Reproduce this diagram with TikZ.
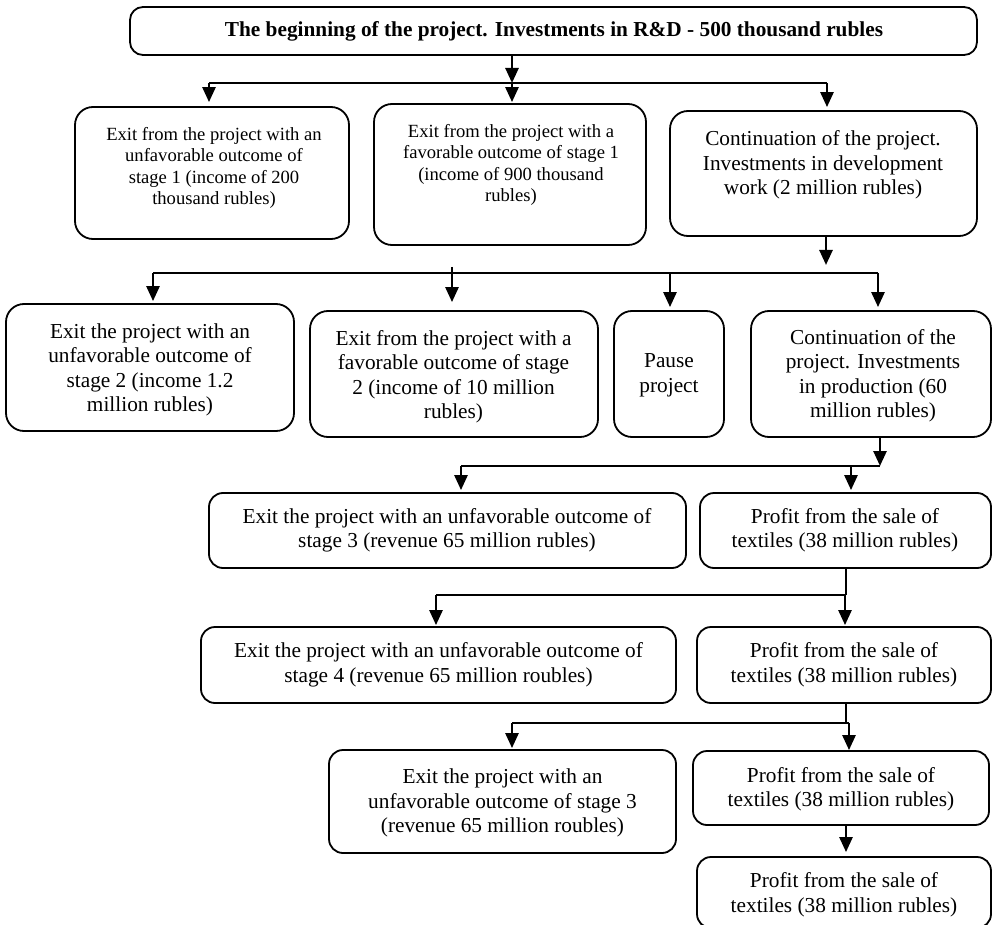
\documentclass[tikz,border=0pt]{standalone}
\usepackage{fontspec}
\setmainfont{Liberation Serif}
\usetikzlibrary{arrows.meta}
\begin{document}
\begin{tikzpicture}[x=1pt,y=-1pt,
  box/.style={draw, line width=1.8pt, rounded corners=14pt, inner sep=0pt},
  bigbox/.style={box, rounded corners=18pt},
  txa/.style={align=center, font=\fontsize{18.6}{21.4}\selectfont, inner sep=0pt},
  txb/.style={align=center, font=\fontsize{21.3}{24.5}\selectfont, inner sep=0pt},
  conn/.style={line width=2.6pt},
  thinconn/.style={line width=1.2pt},
  arr/.style={line width=2.6pt, -{Triangle[width=13pt,length=15pt]}},
]
\useasboundingbox (0,0) rectangle (993,925);
\clip (0,0) rectangle (993,925);

% frames
\node[box, rounded corners=13pt, minimum width=847pt, minimum height=48pt] (T) at (553.5,31) {};
\node[bigbox, minimum width=274pt, minimum height=132pt] (A) at (212,173) {};
\node[bigbox, minimum width=272pt, minimum height=141pt] (B) at (510,174.5) {};
\node[bigbox, minimum width=307pt, minimum height=125pt] (C) at (823.5,173.5) {};
\node[bigbox, minimum width=288pt, minimum height=127pt] (D) at (150,367.5) {};
\node[bigbox, minimum width=288pt, minimum height=126pt] (E) at (454,374) {};
\node[bigbox, minimum width=110pt, minimum height=126pt] (F) at (669,374) {};
\node[bigbox, minimum width=240pt, minimum height=126pt] (G) at (871,374) {};
\node[box, minimum width=477pt, minimum height=75pt] (H) at (447.5,530.5) {};
\node[box, minimum width=291pt, minimum height=75pt] (I) at (845.5,530.5) {};
\node[box, minimum width=475pt, minimum height=76pt] (J) at (438.5,665) {};
\node[box, minimum width=294pt, minimum height=76pt] (K) at (844,665) {};
\node[box, minimum width=347pt, minimum height=103pt] (L) at (502.5,801.5) {};
\node[box, minimum width=296pt, minimum height=74pt] (M) at (841,788) {};
\node[box, minimum width=294pt, minimum height=71pt] (N) at (844,892.5) {};

% texts
\node[txb, font=\bfseries\fontsize{21.3}{24.5}\selectfont] (tT) at (554,31) {The beginning of the project. Investments in R\&D - 500 thousand rubles};
\node[txa] (tA) at (214,168) {Exit from the project with an\\unfavorable outcome of\\stage 1 (income of 200\\thousand rubles)};
\node[txa] (tB) at (511,165) {Exit from the project with a\\favorable outcome of stage 1\\(income of 900 thousand\\rubles)};
\node[txb] (tC) at (823,165) {Continuation of the project.\\Investments in development\\work (2 million rubles)};
\node[txb] (tD) at (150,370) {Exit the project with an\\unfavorable outcome of\\stage 2 (income 1.2\\million rubles)};
\node[txb] (tE) at (453.5,377) {Exit from the project with a\\favorable outcome of stage\\2 (income of 10 million\\rubles)};
\node[txb] (tF) at (669,375.5) {Pause\\project};
\node[txb] (tG) at (873,376) {Continuation of the\\project. Investments\\in production (60\\million rubles)};
\node[txb] (tH) at (447,530.5) {Exit the project with an unfavorable outcome of\\stage 3 (revenue 65 million rubles)};
\node[txb] (tI) at (845,530.5) {Profit from the sale of\\textiles (38 million rubles)};
\node[txb] (tJ) at (438.5,665) {Exit the project with an unfavorable outcome of\\stage 4 (revenue 65 million roubles)};
\node[txb] (tK) at (844,665) {Profit from the sale of\\textiles (38 million rubles)};
\node[txb] (tL) at (502.5,803) {Exit the project with an\\unfavorable outcome of stage 3\\(revenue 65 million roubles)};
\node[txb] (tM) at (841,789.5) {Profit from the sale of\\textiles (38 million rubles)};
\node[txb] (tN) at (844,895) {Profit from the sale of\\textiles (38 million rubles)};

% level 1
\coordinate (t0) at (512,83);
\coordinate (t1) at (209,83);
\coordinate (t3) at (827,83);
\draw[arr] (T.south -| t0) -- (t0);
\draw[conn] (t1) -- (t3);
\draw[arr, shorten >=4pt] (t1) -- (t1 |- A.north);
\draw[arr, shorten >=1pt] (t0) -- (t0 |- B.north);
\draw[arr, shorten >=3pt] (t3) -- (t3 |- C.north);

% level 2
\coordinate (c0) at (826,265);
\draw[arr] (C.south -| c0) -- (c0);
\coordinate (d1) at (153,273);
\coordinate (d4) at (878,273);
\coordinate (d2) at (452,267);
\coordinate (d3) at (670,273);
\draw[conn] (d1) -- (d4);
\draw[arr, shorten >=2pt] (d1) -- (d1 |- D.north);
\draw[arr, shorten >=8pt] (d2) -- (d2 |- E.north);
\draw[arr, shorten >=3pt] (d3) -- (d3 |- F.north);
\draw[arr, shorten >=3pt] (d4) -- (d4 |- G.north);

% level 3
\coordinate (g0) at (880,466);
\coordinate (h1) at (461,466);
\coordinate (h2) at (851,466);
\draw[arr] (G.south -| g0) -- (g0);
\draw[conn] (h1) -- (g0);
\draw[arr, shorten >=2pt] (h1) -- (h1 |- H.north);
\draw[arr, shorten >=2pt] (h2) -- (h2 |- I.north);

% level 4
\coordinate (i0) at (846,595);
\coordinate (j1) at (436,595);
\coordinate (j2) at (845,595);
\draw[thinconn] (I.south -| i0) -- (i0);
\draw[conn] (j1) -- (i0);
\draw[arr, shorten >=1pt] (j1) -- (j1 |- J.north);
\draw[arr, shorten >=1pt] (j2) -- (j2 |- K.north);

% level 5
\coordinate (k0) at (846,723);
\coordinate (l1) at (512,723);
\coordinate (l2) at (849,723);
\draw[thinconn] (K.south -| k0) -- (k0);
\draw[conn] (l1) -- (l2);
\draw[arr, shorten >=1pt] (l1) -- (l1 |- L.north);
\draw[arr] (l2) -- (l2 |- M.north);

% last
\coordinate (m0) at (846,800);
\draw[arr, shorten >=4pt] (M.south -| m0) -- (m0 |- N.north);
\end{tikzpicture}
\end{document}
